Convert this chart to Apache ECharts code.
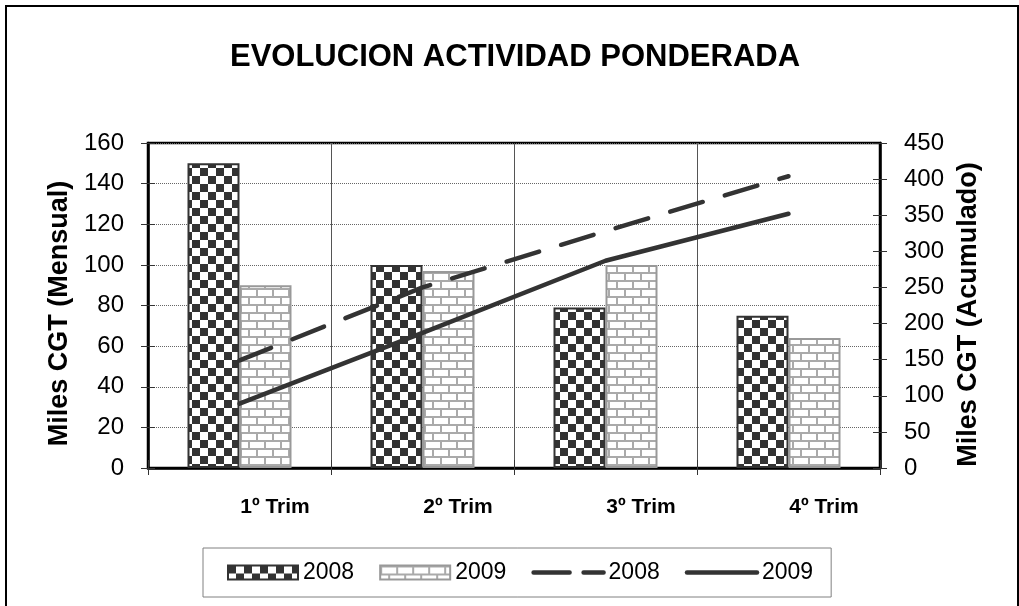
<!DOCTYPE html>
<html>
<head>
<meta charset="utf-8">
<script type="text/javascript" src="https://cdn.jsdelivr.net/npm/echarts@6/dist/echarts.min.js"></script>
<style>
	html, body {
		margin: 0;
		padding: 0;
		background: #fff;
	}

	.chart-main {
		width: 1019px;
		height: 606px;
	}
</style>
</head>
<body>
<div class="chart-main" id="chart"></div>
<script>
	var categories = ['1º Trim', '2º Trim', '3º Trim', '4º Trim'];
	var mensual2008 = [150, 100, 79, 75];
	var mensual2009 = [90, 97, 100, 64];
	var acumulado2008 = [149, 250, 328, 404];
	var acumulado2009 = [89, 187, 287, 352];
	var leftAxis = { min: 0, max: 160, interval: 20 };
	var rightAxis = { min: 0, max: 450, interval: 50 };

	var FONT = '"Liberation Sans", Arial, sans-serif';

	// fill patterns, drawn once on small canvases
	function checkerPattern() {
		var c = document.createElement('canvas');
		c.width = 16;
		c.height = 16;
		var g = c.getContext('2d');
		g.fillStyle = '#fff';
		g.fillRect(0, 0, 16, 16);
		g.fillStyle = '#333';
		g.fillRect(0, 0, 8, 8);
		g.fillRect(8, 8, 8, 8);
		return c;
	}

	function brickPattern() {
		var c = document.createElement('canvas');
		c.width = 16;
		c.height = 16;
		var g = c.getContext('2d');
		g.fillStyle = '#fff';
		g.fillRect(0, 0, 16, 16);
		g.fillStyle = '#aaa';
		g.fillRect(0, 0, 16, 2);
		g.fillRect(0, 8, 16, 2);
		g.fillRect(0, 0, 2, 8);
		g.fillRect(8, 8, 2, 8);
		return c;
	}

	var checker = { image: checkerPattern(), repeat: 'repeat' };
	var brick = { image: brickPattern(), repeat: 'repeat' };

	var chart = echarts.init(document.getElementById('chart'));

	function tickAxis(side, range) {
		return {
			type: 'value',
			position: side,
			min: range.min,
			max: range.max,
			interval: range.interval,
			axisLine: { show: false },
			axisTick: { show: true, inside: true, length: 7, lineStyle: { color: '#333', width: 1 } },
			axisLabel: { show: false },
			splitLine: { show: false }
		};
	}

	var hiddenSymbol = { color: 'transparent', borderColor: 'transparent', borderWidth: 0, opacity: 0 };

	var option = {
		backgroundColor: '#fff',
		animation: false,
		textStyle: { fontFamily: FONT, color: '#000' },
		title: {
			text: 'EVOLUCION ACTIVIDAD PONDERADA',
			left: 515,
			textAlign: 'center',
			top: 42,
			padding: 0,
			textStyle: { fontFamily: FONT, fontSize: 31, fontWeight: 'bold', color: '#000' }
		},
		graphic: [{
			type: 'rect',
			shape: { x: 6, y: 6, width: 1012, height: 640 },
			style: { fill: 'none', stroke: '#000', lineWidth: 2 },
			silent: true
		}],
		legend: {
			left: 203,
			top: 548,
			padding: [13, 18, 13, 24],
			itemGap: 25,
			itemWidth: 70,
			itemHeight: 14,
			borderColor: '#808080',
			borderWidth: 1,
			textStyle: { fontFamily: FONT, fontSize: 23, color: '#000' },
			formatter: function(name) {
				return name.slice(-4);
			},
			data: [
				{ name: 'barras 2008', icon: 'rect' },
				{ name: 'barras 2009', icon: 'rect' },
				{
					name: 'linea 2008',
					itemStyle: hiddenSymbol,
					lineStyle: { color: '#333', width: 4.5, type: [36, 14], cap: 'round' }
				},
				{
					name: 'linea 2009',
					itemStyle: hiddenSymbol,
					lineStyle: { color: '#333', width: 4.5, cap: 'round' }
				}
			]
		},
		grid: {
			left: 148,
			right: 139,
			top: 143,
			bottom: 138,
			show: true,
			borderColor: '#000',
			borderWidth: 2.5,
			backgroundColor: 'transparent'
		},
		xAxis: [{
			type: 'category',
			data: categories,
			position: 'bottom',
			axisLine: { lineStyle: { color: '#000', width: 2.5 } },
			axisTick: { show: true, length: 7, lineStyle: { color: '#333', width: 1 } },
			axisLabel: {
				margin: 29,
				padding: [0, 0, 0, 71],
				fontFamily: FONT,
				fontSize: 21,
				fontWeight: 'bold',
				color: '#000'
			},
			splitLine: { show: true, lineStyle: { color: '#555', width: 1 } }
		}, {
			type: 'category',
			data: categories,
			position: 'bottom',
			axisLine: { show: false },
			axisTick: { show: true, inside: true, length: 8, lineStyle: { color: '#333', width: 1 } },
			axisLabel: { show: false },
			splitLine: { show: false }
		}],
		yAxis: [{
			type: 'value',
			position: 'left',
			min: leftAxis.min,
			max: leftAxis.max,
			interval: leftAxis.interval,
			name: 'Miles CGT (Mensual)',
			nameLocation: 'middle',
			nameGap: 70,
			nameTextStyle: { fontFamily: FONT, fontSize: 27, fontWeight: 'bold', color: '#000', padding: [0, 16, 0, 0] },
			axisLine: { show: true, lineStyle: { color: '#000', width: 2.5 } },
			axisTick: { show: true, length: 7, lineStyle: { color: '#333', width: 1 } },
			axisLabel: { margin: 24, fontFamily: FONT, fontSize: 24, color: '#000' },
			splitLine: { show: true, lineStyle: { color: '#666', width: 1, type: [1, 1] } }
		}, {
			type: 'value',
			position: 'right',
			min: rightAxis.min,
			max: rightAxis.max,
			interval: rightAxis.interval,
			name: 'Miles CGT (Acumulado)',
			nameLocation: 'middle',
			nameGap: 74,
			nameTextStyle: { fontFamily: FONT, fontSize: 27, fontWeight: 'bold', color: '#000', padding: [0, 18, 0, 0] },
			axisLine: { show: true, lineStyle: { color: '#000', width: 2.5 } },
			axisTick: { show: true, length: 7, lineStyle: { color: '#333', width: 1 } },
			axisLabel: { margin: 24, fontFamily: FONT, fontSize: 24, color: '#000' },
			splitLine: { show: false }
		},
		tickAxis('left', leftAxis),
		tickAxis('right', rightAxis)],
		series: [{
			name: 'barras 2008',
			type: 'bar',
			yAxisIndex: 0,
			barWidth: 52,
			barGap: '0%',
			itemStyle: { color: checker, borderColor: '#333', borderWidth: 2 },
			data: mensual2008
		}, {
			name: 'barras 2009',
			type: 'bar',
			yAxisIndex: 0,
			barWidth: 52,
			barGap: '0%',
			itemStyle: { color: brick, borderColor: '#999', borderWidth: 2 },
			data: mensual2009
		}, {
			name: 'linea 2008',
			type: 'line',
			yAxisIndex: 1,
			symbol: 'none',
			itemStyle: { color: '#333' },
			lineStyle: { color: '#333', width: 4.5, type: [34, 23], cap: 'round' },
			data: acumulado2008
		}, {
			name: 'linea 2009',
			type: 'line',
			yAxisIndex: 1,
			symbol: 'none',
			itemStyle: { color: '#333' },
			lineStyle: { color: '#333', width: 4.5, cap: 'round' },
			data: acumulado2009
		}]
	};

	chart.setOption(option);
</script>
</body>
</html>
